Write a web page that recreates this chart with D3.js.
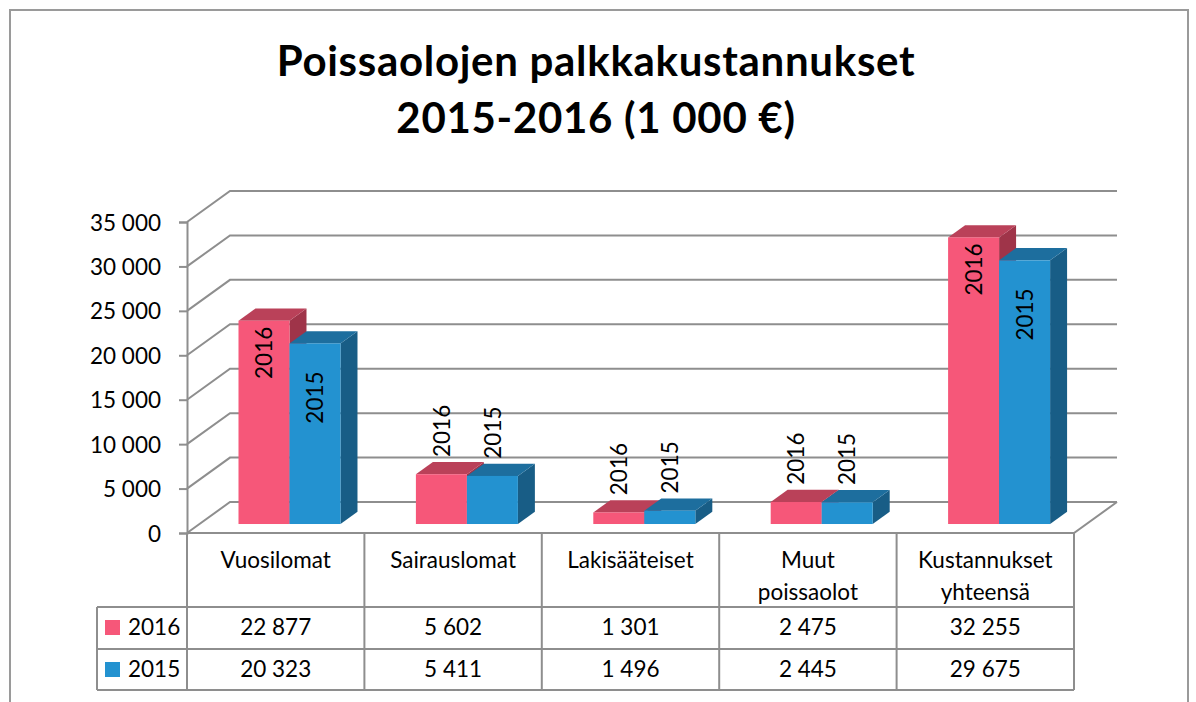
<!DOCTYPE html>
<html>
<head>
<meta charset="utf-8">
<script src="https://cdn.jsdelivr.net/npm/d3@7"></script>
<style>
  body { margin: 0; background: #fff; }
  svg { display: block; font-family: Lato, "Open Sans", sans-serif; }
</style>
</head>
<body>
<svg id="chart"></svg>
<script>
const titleLines = ['Poissaolojen palkkakustannukset', '2015-2016 (1 000 €)'];
const categories = ['Vuosilomat', 'Sairauslomat', 'Lakisääteiset', 'Muut\npoissaolot', 'Kustannukset\nyhteensä'];
const series = ['2016', '2015'];
const values2016 = [22877, 5602, 1301, 2475, 32255];
const values2015 = [20323, 5411, 1496, 2445, 29675];
const yTicks = [0, 5000, 10000, 15000, 20000, 25000, 30000, 35000];

const colors = {
    '2016': { front: '#f65779', top: '#ba4159', side: '#9f3449' },
    '2015': { front: '#2392d0', top: '#1d6e9e', side: '#185d86' }
};
const gridColor = '#8e8e8e';

const W = 1196, H = 702;
const svg = d3.select('#chart').attr('width', W).attr('height', H);

const fmt = d3.formatLocale({ decimal: ',', thousands: ' ', grouping: [3], currency: ['', ' €'] }).format(',d');

// 3D depth offset of the floor / walls
const DX = 43, DY = 31;
const barD0 = 0.29, barD1 = 0.685;

const x0 = d3.scaleBand().domain(categories).range([187, 1074]).padding(0);
const x1 = d3.scaleBand().domain(series)
    .range([x0.bandwidth() * 0.22, x0.bandwidth() * 0.795]).padding(0);
const y = d3.scaleLinear().domain([0, 35000]).range([533, 222]);

const data = categories.map((c, i) => ({
    cat: c,
    vals: [{ s: '2016', v: values2016[i] }, { s: '2015', v: values2015[i] }]
}));

// outer border
svg.append('rect')
    .attr('x', 10).attr('y', 10)
    .attr('width', 1178).attr('height', 720)
    .attr('fill', 'none').attr('stroke', '#9a9a9a').attr('stroke-width', 2);

// title
svg.append('g').selectAll('text')
    .data(titleLines)
    .join('text')
    .attr('x', 596)
    .attr('y', (d, i) => 76 + i * 57)
    .attr('text-anchor', 'middle')
    .attr('font-size', 42)
    .attr('font-weight', 700)
    .attr('letter-spacing', 0.7)
    .attr('fill', '#000')
    .text(d => d);

// gridlines: left wall diagonal + back wall
const grid = svg.append('g').attr('stroke', gridColor).attr('stroke-width', 2).attr('fill', 'none');
grid.selectAll('path')
    .data(yTicks)
    .join('path')
    .attr('d', v => `M${x0.range()[0]},${y(v)}L${x0.range()[0] + DX},${y(v) - DY}L${x0.range()[1] + DX},${y(v) - DY}`);

// floor front edge + right diagonal
grid.append('path')
    .attr('d', `M${x0.range()[0]},${y(0)}L${x0.range()[1]},${y(0)}L${x0.range()[1] + DX},${y(0) - DY}`);

// value axis
const yAxis = d3.axisLeft(y).tickValues(yTicks).tickSize(8).tickPadding(18).tickFormat(fmt);
const ag = svg.append('g')
    .attr('transform', `translate(${x0.range()[0]},0)`)
    .call(yAxis);
ag.select('.domain').attr('stroke', gridColor).attr('stroke-width', 2);
ag.selectAll('.tick line').attr('stroke', gridColor).attr('stroke-width', 2);
ag.selectAll('.tick text')
    .attr('font-family', 'Lato, sans-serif')
    .attr('font-size', 22.5)
    .attr('fill', '#000')
    .attr('dy', '0.36em');

// bars
const dx = (barD1 - barD0) * DX, dy = (barD1 - barD0) * DY;
const bars = svg.append('g');
data.forEach(d => {
    d.vals.forEach(b => {
        const l = x0(d.cat) + x1(b.s) + barD0 * DX;
        const r = l + x1.bandwidth();
        const bot = y(0) - barD0 * DY;
        const top = y(b.v) - barD0 * DY;
        b.l = l; b.r = r; b.top = top; b.bot = bot;
        const g = bars.append('g');
        g.append('path')
            .attr('d', `M${r},${top}L${r + dx},${top - dy}L${r + dx},${bot - dy}L${r},${bot}Z`)
            .attr('fill', colors[b.s].side);
        g.append('path')
            .attr('d', `M${l},${top}L${r},${top}L${r + dx},${top - dy}L${l + dx},${top - dy}Z`)
            .attr('fill', colors[b.s].top);
        g.append('rect')
            .attr('x', l).attr('y', top)
            .attr('width', r - l).attr('height', bot - top)
            .attr('fill', colors[b.s].front);
    });
});

// data labels (series name, rotated)
const insideOffset = { '2016': 6, '2015': 28 };
const labels = svg.append('g')
    .attr('font-size', 22.5)
    .attr('fill', '#000');
data.forEach(d => {
    d.vals.forEach(b => {
        const cx = (b.l + b.r) / 2;
        const inside = (b.bot - b.top) > 80;
        const ly = inside ? b.top + insideOffset[b.s] : b.top - dy - 5;
        labels.append('text')
            .attr('transform', `translate(${cx},${ly}) rotate(-90)`)
            .attr('text-anchor', inside ? 'end' : 'start')
            .attr('dy', '0.36em')
            .text(b.s);
    });
});

// data table
const tbl = svg.append('g').attr('stroke', gridColor).attr('stroke-width', 2).attr('fill', 'none');
const tLeft = 97, tHead = y(0), tRow1 = 607, tRow2 = 649, tBot = 690;
[tRow1, tRow2, tBot].forEach(yy => {
    tbl.append('line').attr('x1', tLeft).attr('x2', x0.range()[1]).attr('y1', yy).attr('y2', yy);
});
tbl.append('line').attr('x1', tLeft).attr('x2', tLeft).attr('y1', tRow1).attr('y2', tBot);
tbl.selectAll('line.col')
    .data(categories.concat(['end']))
    .join('line')
    .attr('class', 'col')
    .attr('x1', d => d === 'end' ? x0.range()[1] : x0(d))
    .attr('x2', d => d === 'end' ? x0.range()[1] : x0(d))
    .attr('y1', tHead).attr('y2', tBot);

const txt = svg.append('g').attr('font-size', 22.5).attr('fill', '#000');
// category labels
categories.forEach(c => {
    const t = txt.append('text')
        .attr('x', x0(c) + x0.bandwidth() / 2)
        .attr('y', 568)
        .attr('text-anchor', 'middle');
    c.split('\n').forEach((line, i) => {
        t.append('tspan')
            .attr('x', x0(c) + x0.bandwidth() / 2)
            .attr('dy', i === 0 ? 0 : 31.7)
            .text(line);
    });
});

// rows with legend keys
const rows = [
    { s: '2016', vals: values2016, base: 635 },
    { s: '2015', vals: values2015, base: 677 }
];
rows.forEach(row => {
    txt.append('rect')
        .attr('x', 105).attr('y', row.base - 15)
        .attr('width', 15).attr('height', 15)
        .attr('fill', colors[row.s].front);
    txt.append('text')
        .attr('x', 128).attr('y', row.base)
        .text(row.s);
    categories.forEach((c, i) => {
        txt.append('text')
            .attr('x', x0(c) + x0.bandwidth() / 2)
            .attr('y', row.base)
            .attr('text-anchor', 'middle')
            .text(fmt(row.vals[i]));
    });
});
</script>
</body>
</html>
